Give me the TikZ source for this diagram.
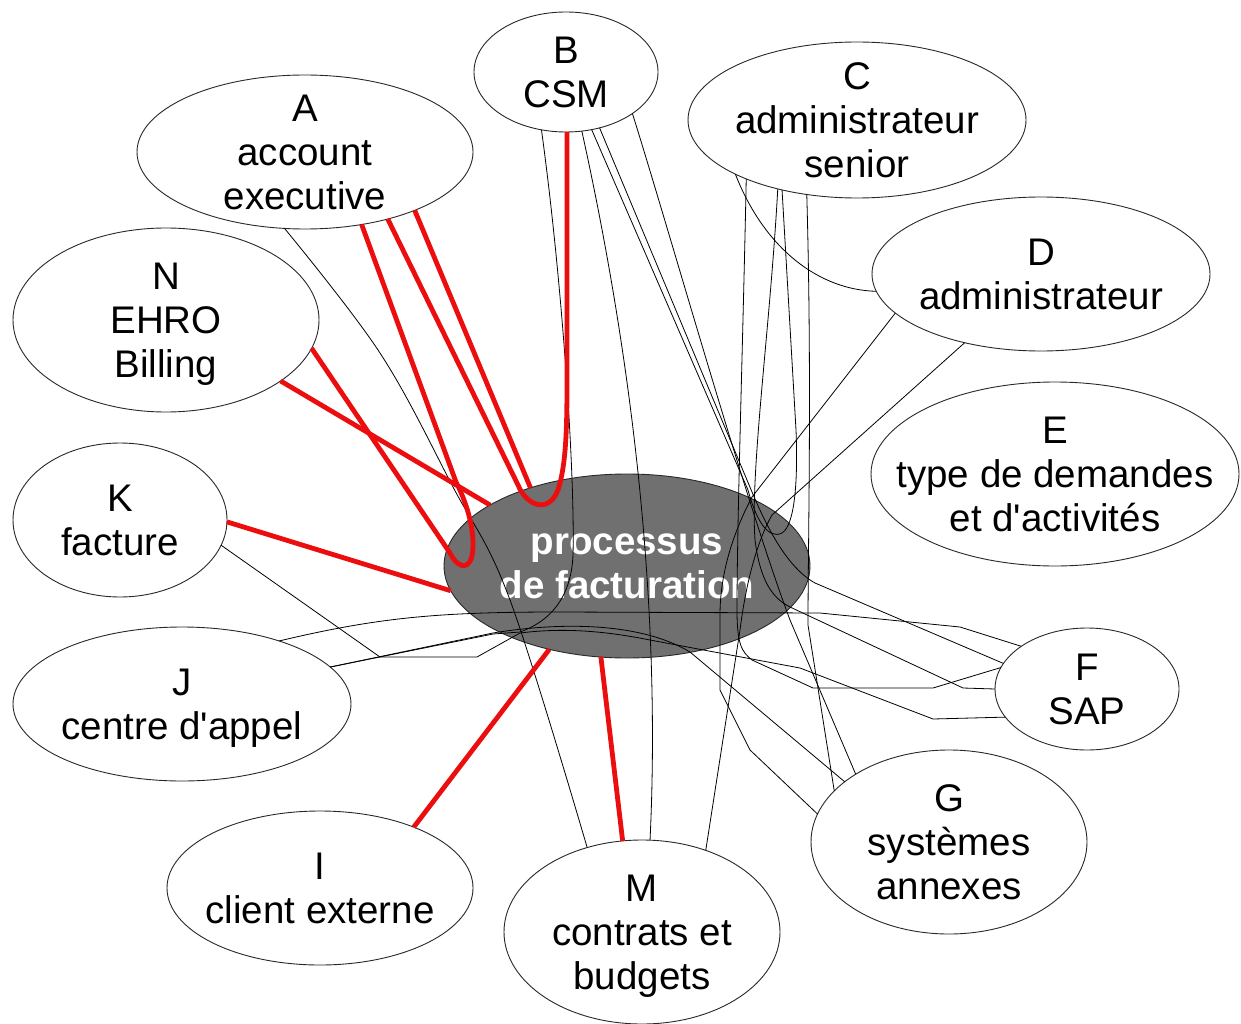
\documentclass[tikz,border=0pt]{standalone}
\usepackage{fontspec}
\setmainfont{Liberation Sans}[Ligatures=TeXOff]
\usetikzlibrary{shapes.geometric}
\definecolor{hubgray}{RGB}{112,112,112}
\definecolor{linkred}{RGB}{236,14,14}
\definecolor{rim}{RGB}{40,40,40}

\begin{document}
\begin{tikzpicture}[x=1pt,y=-1pt,
  bubble/.style={ellipse, draw=rim, line width=0.9pt, fill=white, inner sep=0pt, outer sep=0pt},
  lbl/.style={align=center, inner sep=0pt, text depth=0pt, font=\fontsize{38.5}{44}\selectfont},
  hublbl/.style={lbl, text=white, font=\bfseries\fontsize{38.5}{44}\selectfont},
  wire/.style={draw=black, line width=0.8pt},
  strong/.style={draw=linkred, line width=4.8pt}
]
\useasboundingbox (0,0) rectangle (1241,1024);

% ---- actors around the central process ----
\node[bubble, minimum width=336pt, minimum height=154pt] (A) at (305,152) {};
\node[bubble, minimum width=184pt, minimum height=120pt] (B) at (566,72) {};
\node[bubble, minimum width=338pt, minimum height=156pt] (C) at (857,120) {};
\node[bubble, minimum width=338pt, minimum height=154pt] (D) at (1041,274) {};
\node[bubble, minimum width=368pt, minimum height=184pt] (E) at (1055,474) {};
\node[bubble, minimum width=184pt, minimum height=122pt] (F) at (1087,689) {};
\node[bubble, minimum width=276pt, minimum height=184pt] (G) at (949,842) {};
\node[bubble, minimum width=276pt, minimum height=184pt] (M) at (642,932) {};
\node[bubble, minimum width=306pt, minimum height=154pt] (I) at (320,888) {};
\node[bubble, minimum width=338pt, minimum height=154pt] (J) at (182,704) {};
\node[bubble, minimum width=214pt, minimum height=154pt] (K) at (120,520) {};
\node[bubble, minimum width=306pt, minimum height=184pt] (N) at (166,320) {};
\node[bubble, fill=hubgray, minimum width=366pt, minimum height=184pt] (P) at (627,566) {};

% ---- captions ----
\node[lbl] (At) at (A) {A\\account\\executive};
\node[lbl] (Bt) at (B) {B\\CSM};
\node[lbl] (Ct) at (C) {C\\administrateur\\senior};
\node[lbl] (Dt) at (D) {D\\administrateur};
\node[lbl] (Et) at (E) {E\\type de demandes\\et d'activités};
\node[lbl] (Ft) at (F) {F\\SAP};
\node[lbl] (Gt) at (G) {G\\systèmes\\annexes};
\node[lbl] (Mt) at (M) {M\\contrats et\\budgets};
\node[lbl] (It) at (I) {I\\client externe};
\node[lbl] (Jt) at (J) {J\\centre d'appel};
\node[lbl] (Kt) at (K) {K\\facture};
\node[lbl] (Nt) at (N) {N\\EHRO\\Billing};
\node[hublbl] (Pt) at (P) {processus\\de facturation};

% ---- secondary links ----
\draw[wire] plot[smooth, tension=0.6] coordinates {(A.255) (380,353) (453,487) (510,600) (M.123.5)};
\draw[wire] (B.247) .. controls (562,280) and (575,470) .. (573,555)
  .. controls (571,600) and (548,622) .. (520,632) -- (493,634) -- (J.14);
\draw[wire] (B.-75) .. controls (628,340) and (662,590) .. (M.85);
\draw[wire] (B.-66) -- (748,490) .. controls (756,520) and (768,540) .. (782,533)
  .. controls (795,525) and (798,480) .. (796,430) -- (C.223);
\draw[wire] (B.-59) -- (752,492) .. controls (768,530) and (788,568) .. (815,583) -- (F.163);
\draw[wire] (B.-32) .. controls (672,240) and (745,500) .. (790,620) -- (G.144);
\draw[wire] (C.204.6) .. controls (765,250) and (820,290) .. (D.186);
\draw[wire] (C.208.6) .. controls (743,340) and (737,520) .. (737,610)
  .. controls (737,645) and (742,652) .. (752,660) -- (813,688) -- (933,688) -- (F.166);
\draw[wire] (C.221) .. controls (770,330) and (750,470) .. (755,540)
  .. controls (760,580) and (772,598) .. (790,607) -- (963,688) -- (F.180);
\draw[wire] (C.236) .. controls (812,380) and (808,540) .. (808,625) -- (G.156);
\draw[wire] (D.195) -- (752,497) .. controls (732,535) and (720,575) .. (720,615)
  -- (720,690) -- (750,750) -- (G.168.6);
\draw[wire] (D.222) -- (772,515) .. controls (755,545) and (745,590) .. (740,630) -- (M.52.5);
\draw[wire] (J.33) .. controls (380,617) and (440,612) .. (560,612) -- (820,613) -- (960,627) -- (F.147);
\draw[wire] (J.14) -- (493,633) .. controls (560,622) and (640,622) .. (690,652) -- (G.150.5);
\draw[wire] (K.-14.7) -- (380,657) -- (477,657) -- (520,633)
  .. controls (560,628) and (600,630) .. (650,640) -- (800,668) -- (933,719) -- (F.199);

% ---- main links to the process ----
\draw[strong] (K.-1) -- (P.188);
\draw[strong] (N.-28.5) -- (P.156);
\draw[strong] (N.-11.5) -- (450,553) .. controls (456,566) and (468,572) .. (472,556)
  .. controls (476,535) and (468,505) .. (456,482) -- (A.-52);
\draw[strong] (A.-28) -- (P.141);
\draw[strong] (A.-39) -- (518,485) .. controls (526,505) and (548,515) .. (558,490)
  .. controls (566,465) and (567,430) .. (567,380) -- (B.-89);
\draw[strong] (I.33) -- (P.227.5);
\draw[strong] (M.102) -- (P.254);
\end{tikzpicture}
\end{document}
